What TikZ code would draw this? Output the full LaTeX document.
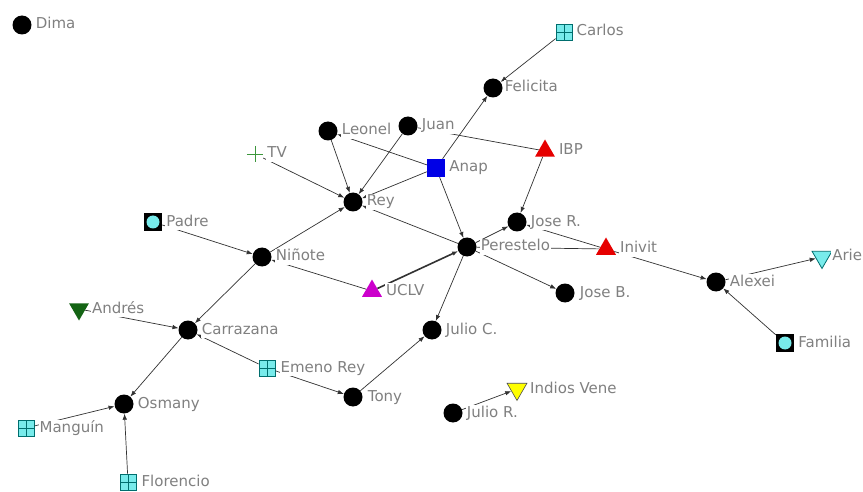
\documentclass[tikz,border=0pt]{standalone}
\usepackage{fontspec}
\newfontfamily\netfont{DejaVu Sans}
\usetikzlibrary{positioning,arrows.meta,shapes.geometric}
\definecolor{netcyan}{RGB}{120,235,235}
\definecolor{netteal}{RGB}{0,110,110}
\definecolor{netred}{RGB}{230,0,0}
\definecolor{netblue}{RGB}{0,0,230}
\definecolor{netmagenta}{RGB}{204,0,204}
\definecolor{netgreen}{RGB}{20,100,20}
\definecolor{tvgreen}{RGB}{60,150,60}
\definecolor{netyellow}{RGB}{255,255,0}
\definecolor{lblgray}{RGB}{128,128,128}
\definecolor{edgegray}{RGB}{50,50,50}

\tikzset{
  actor/.style={circle, fill=black, minimum size=19pt, inner sep=0pt},
  gridbox/.style={rectangle, draw=netteal, fill=netcyan, line width=0.8pt,
    minimum size=16pt, inner sep=0pt,
    path picture={\draw[netteal, line width=0.8pt]
      (path picture bounding box.north) -- (path picture bounding box.south)
      (path picture bounding box.west) -- (path picture bounding box.east);}},
  dotbox/.style={rectangle, fill=black, minimum size=18pt, inner sep=0pt,
    path picture={\fill[netcyan] (path picture bounding box.center) circle (6.5pt);}},
  sqbox/.style={rectangle, fill=netblue, minimum size=18pt, inner sep=0pt},
  tri/.style={regular polygon, regular polygon sides=3, minimum size=23pt, inner sep=0pt},
  invtri/.style={tri, shape border rotate=180},
  plusmark/.style={minimum size=16pt, inner sep=0pt},
  lbl/.style={font=\netfont\fontsize{15}{17}\selectfont, text=lblgray, fill=white,
    inner sep=1pt, text height=11pt, text depth=3pt},
  arr/.style={draw=edgegray, line width=0.7pt, -{Latex[length=6pt,width=4.5pt]}},
  link/.style={draw=edgegray, line width=0.7pt}
}

\begin{document}
\begin{tikzpicture}[x=1pt, y=-1pt]
  \useasboundingbox[fill=white] (0,0) rectangle (863,492);

  % Nodi
  \node[actor] (dima) at (22,25) {};
  \node[gridbox] (carlos) at (564,32) {};
  \node[actor] (felicita) at (493,88) {};
  \node[actor] (leonel) at (328,131) {};
  \node[actor] (juan) at (408,126) {};
  \node[tri, fill=netred] (ibp) at (545,151) {};
  \node[plusmark] (tv) at (255,154) {};
  \draw[tvgreen, line width=0.8pt] (tv.north) -- (tv.south) (tv.west) -- (tv.east);
  \node[sqbox] (anap) at (436,168) {};
  \node[actor] (rey) at (353,202) {};
  \node[actor] (joser) at (517,222) {};
  \node[dotbox] (padre) at (153,222) {};
  \node[actor] (perestelo) at (467,247) {};
  \node[tri, fill=netred] (inivit) at (606,249) {};
  \node[actor] (ninote) at (262,257) {};
  \node[tri, fill=netmagenta] (uclv) at (372,291) {};
  \node[invtri, fill=netcyan, draw=netteal, line width=0.8pt] (ariel) at (822,257) {};
  \node[actor] (alexei) at (716,282) {};
  \node[actor] (joseb) at (565,293) {};
  \node[invtri, fill=netgreen] (andres) at (79,309) {};
  \node[actor] (carrazana) at (188,330) {};
  \node[actor] (julioc) at (432,330) {};
  \node[dotbox] (familia) at (785,343) {};
  \node[gridbox] (emeno) at (267,368) {};
  \node[invtri, fill=netyellow, draw=black!70, line width=0.6pt] (indios) at (517,389) {};
  \node[actor] (tony) at (353,397) {};
  \node[actor] (osmany) at (124,404) {};
  \node[actor] (julior) at (453,413) {};
  \node[gridbox] (manguin) at (26,428) {};
  \node[gridbox] (florencio) at (128,482) {};

  % Frecce
  \draw[arr] (carlos) -- (felicita);
  \draw[arr] (anap) -- (felicita);
  \draw[arr] (anap) -- (leonel);
  \draw[arr] (anap) -- (rey);
  \draw[arr] (anap) -- (perestelo);
  \draw[arr] (leonel) -- (rey);
  \draw[arr] (juan) -- (rey);
  \draw[link] (ibp) -- (juan);
  \draw[arr] (ibp) -- (joser);
  \draw[arr] (tv) -- (rey);
  \draw[arr] (perestelo) -- (rey);
  \draw[arr] (ninote) -- (rey);
  \draw[arr] (padre) -- (ninote);
  \draw[arr] (uclv) -- (ninote);
  \draw[arr, line width=1.6pt] (uclv) -- (perestelo);
  \draw[arr] (ninote) -- (carrazana);
  \draw[arr] (andres) -- (carrazana);
  \draw[arr] (emeno) -- (carrazana);
  \draw[arr] (emeno) -- (tony);
  \draw[arr] (carrazana) -- (osmany);
  \draw[arr] (manguin) -- (osmany);
  \draw[arr] (florencio) -- (osmany);
  \draw[arr] (tony) -- (julioc);
  \draw[arr] (perestelo) -- (julioc);
  \draw[arr] (perestelo) -- (joseb);
  \draw[arr] (perestelo) -- (joser);
  \draw[arr] (inivit) -- (joser);
  \draw[link] (inivit) -- (perestelo);
  \draw[arr] (inivit) -- (alexei);
  \draw[arr] (alexei) -- (ariel);
  \draw[arr] (familia) -- (alexei);
  \draw[arr] (julior) -- (indios);

  % Etichette
  \node[lbl, right=3pt of dima] (dimaL) {Dima};
  \node[lbl, right=3pt of carlos] (carlosL) {Carlos};
  \node[lbl, right=1pt of felicita] (felicitaL) {Felicita};
  \node[lbl, right=3pt of leonel] (leonelL) {Leonel};
  \node[lbl, right=3pt of juan] (juanL) {Juan};
  \node[lbl, right=6pt of ibp] (ibpL) {IBP};
  \node[lbl, right=3pt of tv] (tvL) {TV};
  \node[lbl, right=3pt of anap] (anapL) {Anap};
  \node[lbl, right=3pt of rey] (reyL) {Rey};
  \node[lbl, right=3pt of joser] (joserL) {Jose R.};
  \node[lbl, right=3pt of padre] (padreL) {Padre};
  \node[lbl, right=3pt of perestelo] (peresteloL) {Perestelo};
  \node[lbl, right=6pt of inivit] (inivitL) {Inivit};
  \node[lbl, right=3pt of ninote] (ninoteL) {Niñote};
  \node[lbl, right=6pt of uclv] (uclvL) {UCLV};
  \node[lbl, right=2pt of ariel] (arielL) {Arie};
  \node[lbl, right=3pt of alexei] (alexeiL) {Alexei};
  \node[lbl, right=4pt of joseb] (josebL) {Jose B.};
  \node[lbl, right=5pt of andres] (andresL) {Andrés};
  \node[lbl, right=3pt of carrazana] (carrazanaL) {Carrazana};
  \node[lbl, right=3pt of julioc] (juliocL) {Julio C.};
  \node[lbl, right=3pt of familia] (familiaL) {Familia};
  \node[lbl, right=4pt of emeno] (emenoL) {Emeno Rey};
  \node[lbl, right=5pt of indios] (indiosL) {Indios Vene};
  \node[lbl, right=4pt of tony] (tonyL) {Tony};
  \node[lbl, right=3pt of osmany] (osmanyL) {Osmany};
  \node[lbl, right=3pt of julior] (juliorL) {Julio R.};
  \node[lbl, right=4pt of manguin] (manguinL) {Manguín};
  \node[lbl, right=4pt of florencio] (florencioL) {Florencio};
\end{tikzpicture}
\end{document}
